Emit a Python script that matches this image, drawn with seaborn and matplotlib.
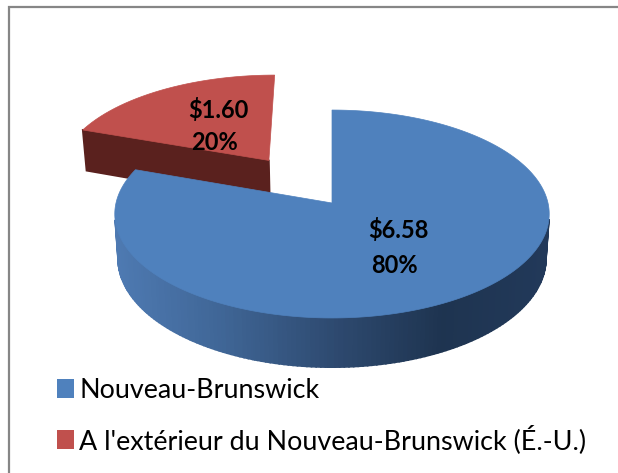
import numpy as np
import seaborn as sns
import matplotlib.pyplot as plt
from matplotlib.patches import Patch, Polygon
from matplotlib.transforms import Affine2D

# Donnees du graphique
categories = ['Nouveau-Brunswick', "A l'extérieur du Nouveau-Brunswick (É.-U.)"]
montants = [6.58, 1.60]
pourcentages = [80, 20]
explosion = [0, 0.53]

sns.set_theme(style='white')
plt.rcParams['font.family'] = ['Lato', 'DejaVu Sans']

couleurs = sns.color_palette(['#4F81BD', '#C0504D'])
cmap_bleu = sns.blend_palette(['#4E7AB2', '#3F6595', '#2E4A70', '#1E3450', '#22395A'], as_cmap=True)
cmap_rouge = sns.blend_palette(['#5A211E', '#4E1E1B'], as_cmap=True)
cmaps = [cmap_bleu, cmap_rouge]


# Perspective du disque vers les pixels de l'image
def projeter(pts, bas=False):
    u, v = pts[:, 0], pts[:, 1]
    d = 1 + 0.1058 * v
    x = 332 + 216 * u / d
    y = 203 - 102.8 * v / d
    if bas:
        x = 332 + (x - 332) * 0.985
        y = y + 44 / d
    return np.column_stack([x, y])


fig = plt.figure(figsize=(6.18, 4.73), dpi=100)
ax = fig.add_axes([0, 0, 1, 1])

# La tarte sert de base pour les secteurs, ensuite projetes en 3D
ax_pie = fig.add_axes([0, 0, 1, 1], visible=False)
wedges, _ = ax_pie.pie(montants, explode=explosion, startangle=90, counterclock=False)

ax.set_xlim(0, 618)
ax.set_ylim(473, 0)
ax.axis('off')

# Rouge en premier, le bleu passe devant
for i in [1, 0]:
    path = wedges[i].get_path()
    poly = path.to_polygons(Affine2D().scale(1000))[0] / 1000
    haut = projeter(poly)
    bas = projeter(poly, bas=True)
    dx = np.diff(haut[:, 0])
    dy = np.diff(haut[:, 1])
    # Sens du polygone a l'ecran, pour garder seulement les parois de devant
    aire = np.sum(haut[:-1, 0] * haut[1:, 1] - haut[1:, 0] * haut[:-1, 1])
    for j in range(len(poly) - 1):
        long_seg = np.hypot(dx[j], dy[j])
        if long_seg == 0:
            continue
        ny = -dx[j] / long_seg * np.sign(aire)
        if ny < 0.1:
            continue
        quad = [haut[j], haut[j + 1], bas[j + 1], bas[j]]
        t = np.clip((haut[j, 0] - 115) / 435, 0, 1)
        ax.add_patch(Polygon(quad, closed=True, fc=cmaps[i](t), ec=cmaps[i](t), lw=1.2, zorder=2))
    ax.add_patch(Polygon(haut, closed=True, fc=couleurs[i], ec=couleurs[i], lw=0.5, zorder=2))

# Etiquettes
ax.text(218, 110, f'${montants[1]:.2f}', ha='center', va='center', fontsize=17, fontweight='bold', color='black', zorder=3)
ax.text(214, 142, f'{pourcentages[1]}%', ha='center', va='center', fontsize=17, fontweight='bold', color='black', zorder=3)
ax.text(398, 230, f'${montants[0]:.2f}', ha='center', va='center', fontsize=17, fontweight='bold', color='black', zorder=3)
ax.text(394, 265, f'{pourcentages[0]}%', ha='center', va='center', fontsize=17, fontweight='bold', color='black', zorder=3)

# Cadre: seulement le haut et la gauche sont visibles
ax.plot([9, 9, 618], [473, 7, 7], color='#868686', lw=1.6, solid_joinstyle='miter', zorder=1)

handles = [Patch(fc=c, ec='none', label=n) for c, n in zip(couleurs, categories)]
ax.legend(handles=handles, loc='upper left', bbox_to_anchor=(57 / 618, 1 - 378 / 473),
          frameon=False, fontsize=19.4, handlelength=0.63, handleheight=0.72,
          handletextpad=0.2, labelspacing=0.8, borderpad=0, borderaxespad=0,
          labelcolor='black')

plt.savefig('out.png', dpi=100)
plt.close()
